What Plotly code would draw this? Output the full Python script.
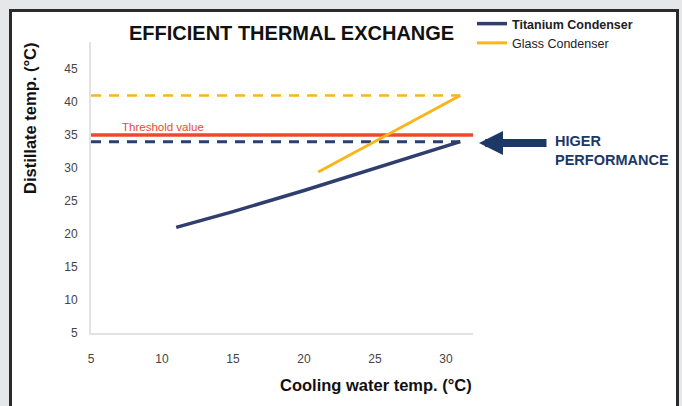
import plotly.graph_objects as go

# ---- data ----
titanium_x = [11, 15, 20, 25, 31]
titanium_y = [21.0, 23.4, 26.6, 30.0, 34.0]
glass_x = [21, 31]
glass_y = [29.4, 41.0]
glass_ref_x = [5, 31]
glass_ref_y = [41.0, 41.0]
titanium_ref_x = [5, 31]
titanium_ref_y = [34.0, 34.0]
threshold_x = [5, 32]
threshold_y = [35.0, 35.0]
x_ticks = [5, 10, 15, 20, 25, 30]
y_ticks = [5, 10, 15, 20, 25, 30, 35, 40, 45]

NAVY = "#2f3e6e"
ORANGE = "#fbb41c"
RED = "#f0472e"
ARROW = "#1c3866"

W, H = 682, 406
def px(x):
    return x / W
def py(y):
    return 1 - y / H

fig = go.Figure()
fig.add_trace(go.Scatter(x=glass_ref_x, y=glass_ref_y, mode="lines",
                         line=dict(color=ORANGE, width=2.5, dash="10px,8px"),
                         showlegend=False, hoverinfo="skip"))
fig.add_trace(go.Scatter(x=titanium_ref_x, y=titanium_ref_y, mode="lines",
                         line=dict(color=NAVY, width=3, dash="10px,8px"),
                         showlegend=False, hoverinfo="skip"))
fig.add_trace(go.Scatter(x=threshold_x, y=threshold_y, mode="lines",
                         line=dict(color=RED, width=3.5),
                         showlegend=False, hoverinfo="skip"))
fig.add_trace(go.Scatter(x=titanium_x, y=titanium_y, mode="lines",
                         line=dict(color=NAVY, width=3.5),
                         name="<b>Titanium Condenser</b>"))
fig.add_trace(go.Scatter(x=glass_x, y=glass_y, mode="lines",
                         line=dict(color=ORANGE, width=3),
                         name="Glass Condenser"))

# white panel with dark border
fig.add_shape(type="rect", xref="paper", yref="paper",
              x0=px(10.5), x1=px(677.5), y0=py(420), y1=py(10.5),
              fillcolor="white", line=dict(color="#2b2b2b", width=3), layer="below")

fig.update_layout(
    width=W, height=H,
    margin=dict(l=0, r=0, t=0, b=0),
    paper_bgcolor="#e6e7e8",
    plot_bgcolor="rgba(0,0,0,0)",
    font=dict(family="Liberation Sans, Arial", color="#333"),
    showlegend=True,
    legend=dict(x=px(472), y=py(9), xanchor="left", yanchor="top",
                bgcolor="rgba(0,0,0,0)", font=dict(size=12.5, color="#222"),
                tracegroupgap=0, itemwidth=30),
    xaxis=dict(domain=[px(91), px(473)], range=[5, 31.9], tickvals=x_ticks,
               showgrid=False, zeroline=False, showline=True, linecolor="#e2e2e2",
               linewidth=2, ticks="", ticklabelstandoff=14, automargin=False,
               tickfont=dict(size=12, color="#444")),
    yaxis=dict(domain=[py(333), py(42)], range=[5, 49.1], tickvals=y_ticks,
               showgrid=False, zeroline=False, showline=True, linecolor="#e2e2e2",
               linewidth=2, ticks="", ticklabelstandoff=9, automargin=False,
               tickfont=dict(size=12, color="#444")),
)

annotations = [
    dict(text="<b>EFFICIENT THERMAL EXCHANGE</b>", x=px(291), y=py(33),
         xref="paper", yref="paper", showarrow=False,
         font=dict(size=20, color="#111"), xanchor="center", yanchor="middle"),
    dict(text="<b>Distillate temp. (°C)</b>", x=px(30), y=py(119),
         xref="paper", yref="paper", showarrow=False, textangle=-90,
         font=dict(size=16.5, color="#111"), xanchor="center", yanchor="middle"),
    dict(text="<b>Cooling water temp. (°C)</b>", x=px(376), y=py(385),
         xref="paper", yref="paper", showarrow=False,
         font=dict(size=16.5, color="#111"), xanchor="center", yanchor="middle"),
    dict(text="Threshold value", x=px(120), y=py(127),
         xref="paper", yref="paper", showarrow=False,
         font=dict(size=11.5, color=RED), xanchor="left", yanchor="middle"),
    dict(text="<b>HIGER<br>PERFORMANCE</b>", x=px(553), y=py(150),
         xref="paper", yref="paper", showarrow=False, align="left",
         font=dict(size=14.5, color=ARROW), xanchor="left", yanchor="middle"),
    dict(text="", x=px(479), y=py(143), xref="paper", yref="paper",
         showarrow=True, ax=69, ay=0, axref="pixel", ayref="pixel",
         arrowhead=2, arrowsize=0.6, arrowwidth=8, arrowcolor=ARROW),
]
fig.update_layout(annotations=annotations)

fig.write_html("out.html", config={"displayModeBar": False},
               post_script="document.body.style.margin='0';document.body.style.padding='0';")
